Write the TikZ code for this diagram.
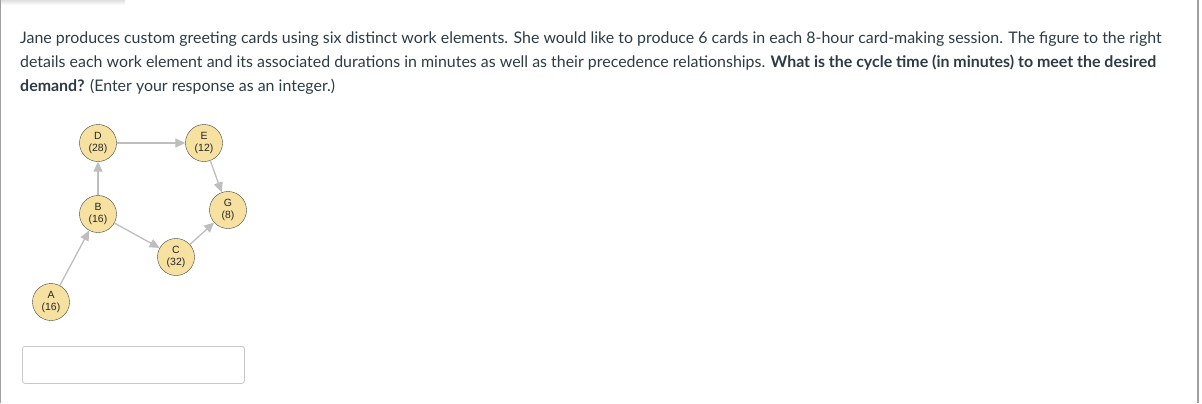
\documentclass[tikz,border=0pt]{standalone}
\usepackage{fontspec}
\setmainfont{Lato}
\newfontfamily\arialfont{Liberation Sans}
\usetikzlibrary{arrows.meta, positioning}
\definecolor{textgray}{HTML}{2D3B45}
\definecolor{nodefill}{HTML}{F6E1A1}
\definecolor{edgegray}{HTML}{BEBEBE}
\definecolor{boxgray}{HTML}{C4C8CB}
\definecolor{framegray}{HTML}{A0A0A0}
\tikzset{
    tasknode/.style = {draw=black!75, fill=nodefill, circle, minimum size=37bp, inner sep=0bp,
      font=\arialfont\fontsize{10.5}{12}\selectfont, align=center, text=black!85},
    textline/.style = {anchor=base west, inner sep=0bp, font=\fontsize{16}{19}\selectfont, text=textgray},
    inputbox/.style = {draw=boxgray, line width=0.8bp, rounded corners=2.5bp, anchor=north west, inner sep=0bp,
      minimum width=222bp, minimum height=37bp},
    connect/.style = {edgegray, line width=1.3bp, -{Triangle[length=10bp, width=9bp]}},
}

\begin{document}
\begin{tikzpicture}[x=1bp, y=-1bp]
    \useasboundingbox (0,0) rectangle (1202,403);
    % page frame
    \shade[top color=black!12, bottom color=white] (0,0) rectangle (125,5);
    \draw[framegray, line width=1.5bp] (0.75,0) -- (0.75,403);
    \draw[framegray, line width=1.2bp] (1198,0) -- (1198,403);

    % question text
    \node [textline, name=line1] at (20,43) {Jane produces custom greeting cards using six distinct work elements. She would like to produce 6 cards in each 8-hour card-making session. The figure to the right};
    \node [textline, name=line2] at (20,67) {details each work element and its associated durations in minutes as well as their precedence relationships. \textbf{What is the cycle time (in minutes) to meet the desired}};
    \node [textline, name=line3] at (20,91) {\textbf{demand?} (Enter your response as an integer.)};

    % precedence diagram
    \node [tasknode, name=D] at (98,143) {D\\(28)};
    \node [tasknode, name=E] at (204,143) {E\\(12)};
    \node [tasknode, name=B] at (98,214) {B\\(16)};
    \node [tasknode, name=G] at (228,210) {G\\(8)};
    \node [tasknode, name=C] at (176,257) {C\\(32)};
    \node [tasknode, name=A] at (51,302) {A\\(16)};

    \draw[connect] (A) -- (B);
    \draw[connect] (B) -- (D);
    \draw[connect] (B) -- (C);
    \draw[connect] (D) -- (E);
    \draw[connect] (E) -- (G);
    \draw[connect] (C) -- (G);

    % answer field
    \node [inputbox, name=answer] at (22,346) {};
\end{tikzpicture}
\end{document}
